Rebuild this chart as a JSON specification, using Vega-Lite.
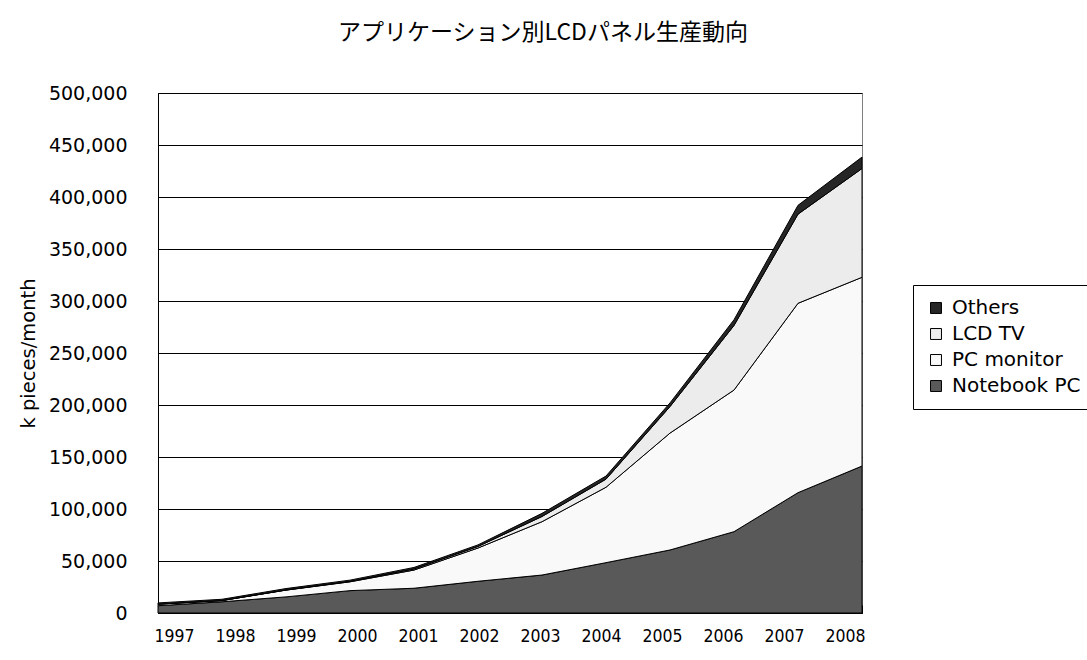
{
  "$schema": "https://vega.github.io/schema/vega-lite/v6.json",
  "width": 704,
  "height": 520,
  "autosize": {"type": "none"},
  "padding": {"left": 158, "top": 93, "right": 225, "bottom": 47},
  "background": "white",
  "title": {
    "text": "アプリケーション別LCDパネル生産動向",
    "font": "Noto Sans CJK JP",
    "fontSize": 23,
    "fontWeight": "normal",
    "color": "black",
    "anchor": "middle",
    "dx": 33,
    "offset": 39
  },
  "config": {
    "view": {"stroke": "#808080", "strokeWidth": 1},
    "axis": {"labelColor": "black", "titleColor": "black"}
  },
  "data": {
    "values": [
      {"year": 1997, "series": "Notebook PC", "layer": 1, "value": 7000},
      {"year": 1998, "series": "Notebook PC", "layer": 1, "value": 10800},
      {"year": 1999, "series": "Notebook PC", "layer": 1, "value": 15500},
      {"year": 2000, "series": "Notebook PC", "layer": 1, "value": 21500},
      {"year": 2001, "series": "Notebook PC", "layer": 1, "value": 23800},
      {"year": 2002, "series": "Notebook PC", "layer": 1, "value": 30500},
      {"year": 2003, "series": "Notebook PC", "layer": 1, "value": 36500},
      {"year": 2004, "series": "Notebook PC", "layer": 1, "value": 48400},
      {"year": 2005, "series": "Notebook PC", "layer": 1, "value": 60600},
      {"year": 2006, "series": "Notebook PC", "layer": 1, "value": 78200},
      {"year": 2007, "series": "Notebook PC", "layer": 1, "value": 115700},
      {"year": 2008, "series": "Notebook PC", "layer": 1, "value": 141300},
      {"year": 1997, "series": "PC monitor", "layer": 2, "value": 1500},
      {"year": 1998, "series": "PC monitor", "layer": 2, "value": 1200},
      {"year": 1999, "series": "PC monitor", "layer": 2, "value": 6500},
      {"year": 2000, "series": "PC monitor", "layer": 2, "value": 8500},
      {"year": 2001, "series": "PC monitor", "layer": 2, "value": 17500},
      {"year": 2002, "series": "PC monitor", "layer": 2, "value": 32000},
      {"year": 2003, "series": "PC monitor", "layer": 2, "value": 51300},
      {"year": 2004, "series": "PC monitor", "layer": 2, "value": 72500},
      {"year": 2005, "series": "PC monitor", "layer": 2, "value": 112400},
      {"year": 2006, "series": "PC monitor", "layer": 2, "value": 136200},
      {"year": 2007, "series": "PC monitor", "layer": 2, "value": 182100},
      {"year": 2008, "series": "PC monitor", "layer": 2, "value": 181500},
      {"year": 1997, "series": "LCD TV", "layer": 3, "value": 0},
      {"year": 1998, "series": "LCD TV", "layer": 3, "value": 0},
      {"year": 1999, "series": "LCD TV", "layer": 3, "value": 200},
      {"year": 2000, "series": "LCD TV", "layer": 3, "value": 400},
      {"year": 2001, "series": "LCD TV", "layer": 3, "value": 1000},
      {"year": 2002, "series": "LCD TV", "layer": 3, "value": 1500},
      {"year": 2003, "series": "LCD TV", "layer": 3, "value": 5000},
      {"year": 2004, "series": "LCD TV", "layer": 3, "value": 7800},
      {"year": 2005, "series": "LCD TV", "layer": 3, "value": 25500},
      {"year": 2006, "series": "LCD TV", "layer": 3, "value": 62100},
      {"year": 2007, "series": "LCD TV", "layer": 3, "value": 85700},
      {"year": 2008, "series": "LCD TV", "layer": 3, "value": 104600},
      {"year": 1997, "series": "Others", "layer": 4, "value": 1200},
      {"year": 1998, "series": "Others", "layer": 4, "value": 1200},
      {"year": 1999, "series": "Others", "layer": 4, "value": 1300},
      {"year": 2000, "series": "Others", "layer": 4, "value": 1200},
      {"year": 2001, "series": "Others", "layer": 4, "value": 1500},
      {"year": 2002, "series": "Others", "layer": 4, "value": 1500},
      {"year": 2003, "series": "Others", "layer": 4, "value": 3000},
      {"year": 2004, "series": "Others", "layer": 4, "value": 3000},
      {"year": 2005, "series": "Others", "layer": 4, "value": 3500},
      {"year": 2006, "series": "Others", "layer": 4, "value": 5500},
      {"year": 2007, "series": "Others", "layer": 4, "value": 8500},
      {"year": 2008, "series": "Others", "layer": 4, "value": 11000}
    ]
  },
  "layer": [
    {
      "mark": {"type": "area", "stroke": "black", "strokeWidth": 1, "strokeJoin": "miter"},
      "encoding": {
        "x": {
          "field": "year",
          "type": "quantitative",
          "scale": {"domain": [1997, 2008], "nice": false, "zero": false},
          "axis": {
            "title": null,
            "labels": false,
            "values": [1997, 1998, 1999, 2000, 2001, 2002, 2003, 2004, 2005, 2006, 2007, 2008],
            "tickSize": -8,
            "tickColor": "black",
            "domainColor": "black",
            "grid": false
          }
        },
        "y": {
          "field": "value",
          "type": "quantitative",
          "stack": "zero",
          "scale": {"domain": [0, 500000], "nice": false},
          "axis": {
            "title": "k pieces/month",
            "titleFont": "DejaVu Sans",
            "titleFontSize": 19.5,
            "titleFontWeight": "normal",
            "titlePadding": 10,
            "values": [0, 50000, 100000, 150000, 200000, 250000, 300000, 350000, 400000, 450000, 500000],
            "format": ",d",
            "labelFont": "DejaVu Sans",
            "labelFontSize": 19,
            "tickSize": -4,
            "labelPadding": 35,
            "tickColor": "black",
            "domainColor": "black",
            "grid": true,
            "gridColor": "black",
            "gridWidth": 1,
            "gridOpacity": 1
          }
        },
        "color": {
          "field": "series",
          "type": "nominal",
          "scale": {
            "domain": ["Others", "LCD TV", "PC monitor", "Notebook PC"],
            "range": ["#262626", "#ececec", "#f9f9f9", "#595959"]
          },
          "legend": {
            "title": null,
            "orient": "none",
            "legendX": 755,
            "legendY": 192,
            "symbolType": "square",
            "symbolSize": 120,
            "symbolStrokeColor": "black",
            "symbolStrokeWidth": 1,
            "symbolOpacity": 1,
            "labelFont": "DejaVu Sans",
            "labelFontSize": 20,
            "labelColor": "black",
            "labelLimit": 300,
            "labelOffset": 6,
            "rowPadding": 6,
            "padding": 13,
            "strokeColor": "black",
            "fillColor": "white"
          }
        },
        "order": {"field": "layer", "type": "quantitative", "sort": "ascending"}
      }
    },
    {
      "mark": {"type": "rule", "opacity": 0},
      "encoding": {
        "x": {
          "field": "year",
          "type": "quantitative",
          "scale": {"domain": [1996.738, 2008.279], "nice": false, "zero": false},
          "axis": {
            "orient": "bottom",
            "title": null,
            "values": [1997, 1998, 1999, 2000, 2001, 2002, 2003, 2004, 2005, 2006, 2007, 2008],
            "format": "d",
            "labelFont": "DejaVu Sans Condensed, sans-serif",
            "labelFontSize": 17.5,
            "labelFontWeight": "normal",
            "labelPadding": 14,
            "ticks": false,
            "domain": false,
            "grid": false
          }
        }
      }
    }
  ],
  "resolve": {"scale": {"x": "independent"}, "axis": {"x": "independent"}}
}
